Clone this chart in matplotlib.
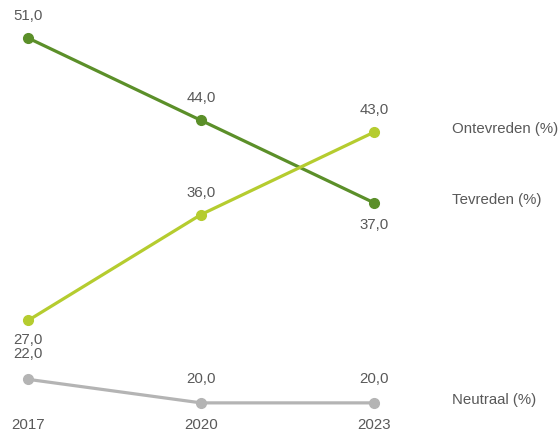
import matplotlib
matplotlib.use("Agg")
import matplotlib.pyplot as plt

# data
years = [2017, 2020, 2023]
tevreden = [51.0, 44.0, 37.0]
ontevreden = [27.0, 36.0, 43.0]
neutraal = [22.0, 20.0, 20.0]

# (name, values, colour, label offset per point in pixels)
series = [
    ("Tevreden (%)", tevreden, "#5b8f29", [22, 22, -22]),
    ("Ontevreden (%)", ontevreden, "#b5cc2f", [-20, 22, 22]),
    ("Neutraal (%)", neutraal, "#b4b4b4", [25, 24, 24]),
]

plt.rcParams["font.family"] = ["Liberation Sans", "DejaVu Sans"]
text_color = "#595959"
fs = 10.8

fig = plt.figure(figsize=(5.58, 4.34), dpi=100)
ax = fig.add_axes([0, 22 / 434, 1, 1 - 22 / 434])

for name, vals, color, offs in series:
    ax.plot(years, vals, color=color, lw=2.3, marker="o", ms=7, zorder=3)
    for x, y, dy in zip(years, vals, offs):
        ax.annotate(f"{y:.1f}".replace(".", ","), (x, y), xytext=(0, dy),
                    textcoords="offset pixels", ha="center", va="center",
                    fontsize=fs, color=text_color)
    # series name to the right of the last point
    ax.annotate(name, (years[-1], vals[-1]), xytext=(78, 3),
                textcoords="offset pixels", ha="left", va="center",
                fontsize=fs, color=text_color)

ax.set_xlim(2016.514, 2026.19)
ax.set_ylim(51 - (412 - 38) / 11.77, 51 + 38 / 11.77)
ax.set_xticks(years)
ax.set_xticklabels([str(y) for y in years])
ax.tick_params(axis="x", length=0, pad=4, labelsize=fs, colors=text_color)
ax.set_yticks([])
for s in ax.spines.values():
    s.set_visible(False)

fig.savefig("out.png", dpi=100)
